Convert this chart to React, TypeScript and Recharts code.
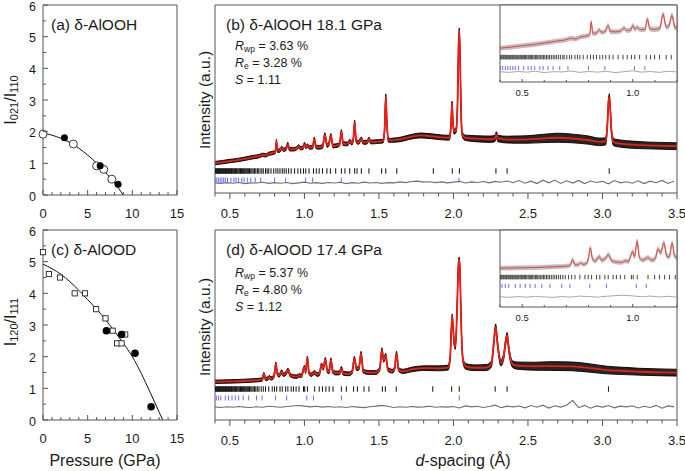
import React from 'react';
import { ComposedChart, Line, Scatter, Area, XAxis, YAxis, ReferenceArea } from 'recharts';

const FONT = '"Liberation Sans", Arial, sans-serif';
const FRAME = '#555';
const TXT = '#1a1a1a';

type P = [number, number];
type Prof = [number, number, number]; // d, calc, obs spread

// ---- (a) δ-AlOOH  I021/I110 vs pressure
const aOpen: P[] = [[0, 1.92], [3.4, 1.61], [6.0, 0.92], [6.8, 0.81], [7.7, 0.5]];
const aFilled: P[] = [[2.4, 1.81], [6.4, 0.92], [8.4, 0.34]];
const aFit: P[] = [[0, 1.95], [1, 1.89], [2, 1.79], [3, 1.66], [4, 1.48], [5, 1.26], [6, 1.01], [7, 0.71], [8, 0.38], [9, 0]];

// ---- (c) δ-AlOOD  I120/I111 vs pressure
const cOpen: P[] = [[0, 5.3], [0.66, 4.61], [1.9, 4.5], [3.55, 4.0], [4.7, 4.0], [5.95, 3.5], [7.0, 3.21], [7.8, 2.82], [8.3, 2.42], [8.8, 2.42], [9.2, 2.7]];
const cFilled: P[] = [[7.1, 2.82], [8.8, 2.7], [10.3, 2.11], [12.1, 0.42]];
const cFit: P[] = [[0, 4.92], [1, 4.78], [2, 4.6], [3, 4.37], [4, 4.1], [5, 3.8], [6, 3.5], [7, 3.17], [8, 2.8], [9, 2.42], [10, 2.0], [11, 1.47], [12, 0.87], [13, 0.25], [13.4, 0]];

const pTicks = [0, 1, 2, 3, 4, 5, 6, 7, 8, 9, 10, 11, 12, 13, 14, 15];
const rTicks = [0, 0.5, 1, 1.5, 2, 2.5, 3, 3.5, 4, 4.5, 5, 5.5, 6];
const dTicks = [0.4, 0.5, 0.6, 0.7, 0.8, 0.9, 1.0, 1.1, 1.2, 1.3, 1.4, 1.5, 1.6, 1.7, 1.8, 1.9, 2.0, 2.1, 2.2, 2.3, 2.4, 2.5, 2.6, 2.7, 2.8, 2.9, 3.0, 3.1, 3.2, 3.3, 3.4, 3.5];
const insetTicks = [0.4, 0.5, 0.6, 0.7, 0.8, 0.9, 1.0, 1.1, 1.2];

// ---- (b) δ-AlOOH 18.1 GPa pattern
const bProfile: Prof[] = [
  [0.40, 15.9, 0.9], [0.45, 16.4, 0.9], [0.50, 17.0, 0.9], [0.55, 17.5, 0.9], [0.60, 18.2, 0.9], [0.65, 19.0, 0.9],
  [0.70, 19.7, 0.9], [0.72, 20.3, 0.9], [0.74, 20.0, 0.9], [0.76, 20.8, 0.9], [0.78, 21.2, 0.9], [0.80, 21.6, 0.9],
  [0.806, 22.2, 0.9], [0.812, 27.5, 1.0], [0.82, 22.5, 0.9], [0.835, 22.6, 0.9], [0.848, 24.0, 0.9], [0.86, 23.0, 0.9],
  [0.876, 23.4, 0.9], [0.888, 26.0, 1.0], [0.90, 23.3, 0.9], [0.92, 23.2, 0.9], [0.945, 23.6, 0.9], [0.96, 24.8, 0.9],
  [0.975, 23.8, 0.9], [0.99, 24.0, 0.9], [1.001, 26.0, 1.0], [1.01, 24.4, 0.9], [1.02, 25.2, 0.9], [1.035, 24.2, 0.9],
  [1.055, 24.3, 0.9], [1.066, 28.8, 1.0], [1.078, 24.5, 0.9], [1.10, 24.3, 1.0], [1.122, 24.8, 1.0], [1.137, 31.0, 1.1],
  [1.152, 25.3, 1.0], [1.163, 25.8, 1.0], [1.177, 30.5, 1.1], [1.192, 25.0, 1.0], [1.22, 25.3, 1.0], [1.236, 26.0, 1.0],
  [1.248, 32.6, 1.1], [1.26, 26.2, 1.0], [1.29, 26.1, 1.0], [1.304, 27.6, 1.0], [1.318, 26.5, 1.0], [1.328, 28.5, 1.0],
  [1.337, 37.5, 1.2], [1.347, 28.0, 1.0], [1.362, 26.8, 1.0], [1.382, 28.8, 1.0], [1.395, 26.9, 1.0], [1.42, 27.0, 1.0],
  [1.433, 28.8, 1.0], [1.445, 27.1, 1.0], [1.50, 27.4, 1.0], [1.528, 27.6, 1.0], [1.538, 34.0, 1.1], [1.546, 51.5, 1.2],
  [1.554, 36.0, 1.1], [1.564, 28.0, 1.0], [1.60, 28.1, 1.1], [1.65, 28.6, 1.2], [1.70, 29.6, 1.2], [1.78, 30.6, 1.3],
  [1.85, 30.2, 1.3], [1.92, 29.6, 1.3], [1.972, 29.4, 1.3], [1.983, 35.0, 1.3], [1.99, 47.5, 1.3], [1.997, 37.0, 1.3],
  [2.005, 32.6, 1.3], [2.018, 33.5, 1.3], [2.028, 50.0, 1.3], [2.034, 78.0, 1.3], [2.039, 86.5, 1.3], [2.045, 70.0, 1.3],
  [2.052, 40.0, 1.3], [2.06, 31.0, 1.4], [2.075, 29.5, 1.4], [2.10, 29.2, 1.5], [2.15, 28.9, 1.6], [2.25, 28.6, 1.7],
  [2.278, 29.0, 1.7], [2.288, 30.9, 1.7], [2.298, 29.0, 1.7], [2.36, 28.4, 1.8], [2.40, 28.4, 1.9], [2.50, 28.5, 2.0],
  [2.60, 29.0, 2.2], [2.70, 29.4, 2.4], [2.80, 29.0, 2.3], [2.90, 28.2, 2.2], [2.98, 27.2, 2.0], [3.02, 27.4, 1.9],
  [3.032, 35.0, 1.8], [3.04, 48.0, 1.8], [3.046, 51.0, 1.8], [3.052, 45.0, 1.8], [3.06, 33.0, 1.8], [3.075, 27.0, 1.9],
  [3.12, 26.3, 1.9], [3.2, 25.7, 1.9], [3.3, 25.3, 1.8], [3.4, 25.1, 1.8], [3.5, 24.9, 1.8],
];
const bBlackTicks = [
  0.400, 0.405, 0.409, 0.414, 0.418, 0.423, 0.427, 0.431, 0.436, 0.440, 0.445, 0.449, 0.454, 0.458, 0.463, 0.468,
  0.472, 0.477, 0.481, 0.486, 0.491, 0.496, 0.500, 0.505, 0.511, 0.516, 0.521, 0.527, 0.532, 0.537, 0.543, 0.548,
  0.554, 0.560, 0.566, 0.571, 0.577, 0.584, 0.590, 0.597, 0.603, 0.610, 0.617, 0.624, 0.632, 0.640, 0.648, 0.656,
  0.665, 0.674, 0.684, 0.690, 0.702, 0.714, 0.724, 0.739, 0.750, 0.761, 0.776, 0.794, 0.809, 0.822, 0.836, 0.851,
  0.864, 0.878, 0.894, 0.911, 0.934, 0.956, 0.975, 0.994, 1.009, 1.031, 1.061, 1.080, 1.099, 1.121, 1.151, 1.174,
  1.210, 1.248, 1.272, 1.304, 1.337, 1.353, 1.382, 1.433, 1.518, 1.546, 1.620, 1.865, 1.992, 2.040, 2.285, 2.360, 3.045,
];
const bBlueTicks = [
  0.401, 0.412, 0.424, 0.435, 0.446, 0.458, 0.469, 0.484, 0.507, 0.527, 0.541, 0.557, 0.580, 0.595, 0.617, 0.640,
  0.670, 0.707, 0.800, 0.874, 1.008, 1.055, 1.247, 2.037,
];
// difference curve, evenly spaced from 0.40 in steps of 0.04
const bDiff = [
  5.4, 5.1, 5.5, 5.2, 5.6, 5.0, 5.4, 5.3, 5.7, 5.1,
  5.5, 5.2, 5.6, 5.0, 5.4, 5.8, 5.2, 5.5, 5.1, 5.6,
  5.3, 5.7, 5.0, 5.5, 5.2, 5.8, 5.3, 5.6, 5.1, 5.5,
  5.4, 5.9, 5.5, 6.1, 6.3, 5.8, 6.0, 5.5, 5.9, 5.4,
  5.8, 6.2, 5.3, 5.9, 5.6, 6.1, 5.4, 6.2, 5.7, 6.4,
  5.5, 6.6, 5.2, 6.3, 5.0, 6.8, 5.4, 6.9, 5.1, 6.5,
  5.3, 6.7, 5.0, 6.4, 5.6, 6.2, 4.9, 6.6, 5.4, 6.0,
  5.2, 6.5, 5.0, 6.3, 5.5, 6.7, 5.1, 6.2,
];

// ---- (d) δ-AlOOD 17.4 GPa pattern
const dProfile: Prof[] = [
  [0.40, 20.1, 0.9], [0.45, 20.2, 0.9], [0.50, 20.3, 0.9], [0.55, 20.4, 0.9], [0.60, 20.6, 0.9], [0.65, 20.8, 0.9],
  [0.70, 21.1, 0.9], [0.716, 21.3, 0.9], [0.728, 24.0, 1.0], [0.74, 21.6, 0.9], [0.755, 21.8, 0.9], [0.765, 22.6, 0.9],
  [0.775, 21.9, 0.9], [0.79, 22.3, 0.9], [0.80, 24.8, 1.0], [0.808, 29.5, 1.0], [0.818, 24.5, 1.0], [0.83, 23.4, 0.9],
  [0.848, 25.4, 1.0], [0.86, 23.8, 0.9], [0.876, 24.6, 1.0], [0.89, 26.3, 1.0], [0.905, 23.6, 0.9], [0.93, 22.9, 0.9],
  [0.95, 22.8, 0.9], [0.965, 23.5, 0.9], [0.98, 23.2, 0.9], [0.993, 26.5, 1.0], [1.0, 27.8, 1.0], [1.008, 25.5, 1.0],
  [1.02, 32.5, 1.1], [1.03, 25.2, 1.0], [1.045, 23.8, 0.9], [1.068, 25.0, 1.0], [1.085, 23.9, 1.0], [1.10, 24.3, 1.0],
  [1.115, 29.0, 1.0], [1.126, 27.2, 1.0], [1.14, 31.8, 1.1], [1.155, 25.6, 1.0], [1.165, 25.4, 1.0], [1.178, 31.6, 1.1],
  [1.19, 25.6, 1.0], [1.21, 24.7, 1.0], [1.235, 24.8, 1.0], [1.248, 27.2, 1.0], [1.26, 24.6, 1.0], [1.30, 24.3, 1.0],
  [1.32, 25.2, 1.0], [1.335, 32.4, 1.1], [1.35, 27.0, 1.0], [1.365, 27.2, 1.0], [1.38, 35.0, 1.1], [1.395, 25.8, 1.0],
  [1.43, 25.0, 1.0], [1.48, 25.0, 1.0], [1.505, 26.8, 1.0], [1.52, 36.8, 1.2], [1.532, 31.5, 1.1], [1.545, 34.0, 1.1],
  [1.56, 26.6, 1.0], [1.59, 25.7, 1.0], [1.605, 27.2, 1.0], [1.618, 35.1, 1.1], [1.632, 26.6, 1.0], [1.66, 25.6, 1.1],
  [1.72, 26.6, 1.2], [1.80, 27.3, 1.2], [1.90, 27.2, 1.3], [1.965, 27.6, 1.3], [1.978, 33.0, 1.3], [1.986, 48.0, 1.3],
  [1.992, 54.5, 1.3], [1.998, 48.0, 1.3], [2.005, 40.5, 1.3], [2.012, 38.5, 1.3], [2.02, 48.0, 1.3], [2.027, 66.0, 1.3],
  [2.033, 81.0, 1.3], [2.038, 84.5, 1.3], [2.044, 78.0, 1.3], [2.05, 57.0, 1.3], [2.058, 37.0, 1.4], [2.068, 30.0, 1.4],
  [2.085, 28.1, 1.5], [2.14, 27.5, 1.5], [2.22, 27.6, 1.6], [2.255, 29.5, 1.6], [2.27, 40.0, 1.6], [2.283, 49.0, 1.6],
  [2.296, 40.0, 1.6], [2.318, 30.0, 1.6], [2.336, 33.0, 1.6], [2.35, 41.0, 1.6], [2.36, 44.5, 1.6], [2.372, 37.0, 1.6],
  [2.395, 29.5, 1.7], [2.43, 28.6, 1.9], [2.55, 28.3, 2.1], [2.65, 28.4, 2.3], [2.80, 28.2, 2.3], [2.92, 27.3, 2.2],
  [3.03, 26.3, 2.0], [3.15, 25.8, 1.9], [3.25, 25.4, 1.8], [3.38, 25.1, 1.8], [3.5, 24.9, 1.8],
];
const dBlackTicks = [
  0.400, 0.405, 0.409, 0.414, 0.418, 0.423, 0.427, 0.431, 0.436, 0.440, 0.445, 0.449, 0.454, 0.458, 0.463, 0.468,
  0.472, 0.477, 0.481, 0.486, 0.491, 0.496, 0.500, 0.505, 0.511, 0.516, 0.521, 0.527, 0.532, 0.537, 0.543, 0.548,
  0.554, 0.560, 0.566, 0.571, 0.577, 0.584, 0.590, 0.597, 0.603, 0.610, 0.617, 0.624, 0.632, 0.640, 0.648, 0.656,
  0.665, 0.674, 0.684, 0.695, 0.710, 0.724, 0.739, 0.761, 0.784, 0.799, 0.814, 0.836, 0.851, 0.874, 0.889, 0.911,
  0.926, 0.944, 0.964, 0.994, 1.002, 1.020, 1.069, 1.099, 1.121, 1.144, 1.166, 1.192, 1.248, 1.281, 1.330, 1.355,
  1.400, 1.433, 1.523, 1.543, 1.616, 1.861, 1.988, 2.039, 2.280, 2.360, 3.040,
];
const dBlueTicks = [
  0.409, 0.424, 0.439, 0.469, 0.491, 0.514, 0.536, 0.559, 0.589, 0.626, 0.679, 0.716, 0.806, 0.881, 1.016, 1.061,
  1.248, 2.039,
];
const dDiff = [
  6.9, 6.6, 7.0, 6.7, 7.1, 6.8, 6.6, 7.0, 6.7, 7.2,
  7.0, 6.7, 7.1, 7.4, 7.6, 7.3, 6.9, 7.2, 6.8, 7.1,
  6.7, 7.0, 6.6, 7.1, 6.8, 6.5, 7.0, 7.3, 7.7, 7.2,
  6.6, 7.0, 6.7, 7.1, 6.8, 6.9, 7.2, 6.7, 7.0, 6.8,
  7.1, 6.3, 7.4, 6.9, 7.2, 6.6, 7.1, 7.8, 6.5, 7.3,
  6.9, 7.4, 6.4, 7.6, 6.7, 7.8, 6.3, 7.5, 6.8, 7.9,
  10.2, 6.5, 7.7, 6.2, 7.4, 6.8, 7.6, 6.4, 7.3, 6.9,
  7.5, 6.3, 7.2, 6.6, 7.7, 6.2, 7.4, 6.9,
];
const diffStart = 0.4;
const diffStep = 0.04;

const toXY = (a: P[]) => a.map(([x, y]) => ({ x, y }));
const toProf = (a: Prof[]) => a.map(([x, c, s]) => ({ x, y: c, lo: c - s, hi: c + s }));
const toTicks = (a: number[], level: number) => a.map((x) => ({ x, y: level }));
const toDiff = (a: number[]) => a.map((y, i) => ({ x: +(diffStart + i * diffStep).toFixed(3), y }));

const isMajor = (v: number, every: number) => Math.abs(v / every - Math.round(v / every)) < 1e-6;

function PTickX({ x, y, payload }: any) {
  const v = payload.value;
  const major = isMajor(v, 5);
  return (
    <g>
      <line x1={x} x2={x} y1={y} y2={y - (major ? 5 : 3)} stroke={FRAME} />
      {major && (
        <text x={x} y={y + 18} textAnchor="middle" dominantBaseline="central" fontSize={13} fill={TXT} fontFamily={FONT}>
          {v}
        </text>
      )}
    </g>
  );
}

function PTickY({ x, y, payload }: any) {
  const v = payload.value;
  const major = isMajor(v, 1);
  return (
    <g>
      <line x1={x} x2={x + (major ? 5 : 3)} y1={y} y2={y} stroke={FRAME} />
      {major && (
        <text x={x - 7} y={y + 1.5} textAnchor="end" dominantBaseline="central" fontSize={12.5} fill={TXT} fontFamily={FONT}>
          {v}
        </text>
      )}
    </g>
  );
}

function DTick({ x, y, payload }: any) {
  const v = payload.value;
  const major = isMajor(v, 0.5);
  return (
    <g>
      <line x1={x} x2={x} y1={y} y2={y + (major ? 6 : 3.5)} stroke={FRAME} />
      {major && (
        <text x={x} y={y + 20} textAnchor="middle" dominantBaseline="central" fontSize={13} fill={TXT} fontFamily={FONT}>
          {v.toFixed(1)}
        </text>
      )}
    </g>
  );
}

function InsetTick({ x, y, payload }: any) {
  const v = payload.value;
  const major = isMajor(v, 0.5);
  return (
    <g>
      <line x1={x} x2={x} y1={y} y2={y - (major ? 3 : 2)} stroke={FRAME} />
      {major && (
        <text x={x} y={y + 10} textAnchor="middle" dominantBaseline="central" fontSize={9.5} fill={TXT} fontFamily={FONT}>
          {v.toFixed(1)}
        </text>
      )}
    </g>
  );
}

const tickShape = (len: number, color: string, w: number) => (p: any) => (
  <line x1={p.cx} x2={p.cx} y1={p.cy - len / 2} y2={p.cy + len / 2} stroke={color} strokeWidth={w} />
);
const openCircle = (p: any) => <circle cx={p.cx} cy={p.cy} r={4} fill="#fff" stroke="#222" strokeWidth={0.9} />;
const filledCircle = (r: number) => (p: any) => <circle cx={p.cx} cy={p.cy} r={r} fill="#000" />;
const openSquare = (p: any) => (
  <rect x={p.cx - 2.6} y={p.cy - 2.6} width={5.2} height={5.2} fill="#fff" stroke="#222" strokeWidth={0.9} />
);

function PressurePanel({ top, open, filled, fit, openShape, filledR }: any) {
  return (
    <div style={{ position: 'absolute', left: 0, top: top - 10 }}>
      <ComposedChart width={190} height={235} margin={{ top: 15, right: 13, bottom: 0, left: 0 }}>
        <XAxis type="number" dataKey="x" domain={[0, 15]} ticks={pTicks} interval={0} tickSize={0} tickMargin={0}
          axisLine={false} height={30} tick={<PTickX />} />
        <YAxis type="number" dataKey="y" domain={[0, 6]} ticks={rTicks} interval={0} tickSize={0} tickMargin={0}
          axisLine={false} width={43} tick={<PTickY />} />
        <Line data={toXY(fit)} dataKey="y" type="monotone" stroke="#111" strokeWidth={1} dot={false} isAnimationActive={false} />
        <Scatter data={toXY(open)} shape={openShape} isAnimationActive={false} />
        <Scatter data={toXY(filled)} shape={filledCircle(filledR)} isAnimationActive={false} />
        <ReferenceArea x1={0} x2={15} y1={0} y2={6} fill="none" stroke={FRAME} strokeWidth={1} />
      </ComposedChart>
    </div>
  );
}

function PatternPanel({ left, top, width, height, margin, xDomain, yDomain, xTicks, tick, xAxisHeight,
  profile, black, blue, diff, levels, inset }: any) {
  return (
    <div style={{ position: 'absolute', left, top }}>
      <ComposedChart width={width} height={height} margin={margin}>
        <XAxis type="number" dataKey="x" domain={xDomain} ticks={xTicks} interval={0} tickSize={0} tickMargin={0}
          axisLine={false} height={xAxisHeight} tick={tick} allowDataOverflow />
        <YAxis type="number" dataKey="y" domain={yDomain} hide allowDataOverflow />
        <Area data={toProf(profile)} dataKey={(p: any) => [p.lo, p.hi]} type="monotone"
          fill={inset ? '#c4c4c4' : '#262626'} fillOpacity={1} stroke={inset ? '#a0a0a0' : '#000'}
          strokeWidth={inset ? 0.5 : 0.9} isAnimationActive={false} />
        <Line data={toProf(profile)} dataKey="y" type="monotone" stroke={inset ? '#ee3b3b' : '#ee1c12'}
          strokeWidth={inset ? 1 : 1.8} dot={false} isAnimationActive={false} />
        <Scatter data={toTicks(black, levels[0])} shape={tickShape(inset ? 4.5 : 5.5, '#111', inset ? 0.8 : 1)} isAnimationActive={false} />
        <Scatter data={toTicks(blue, levels[1])} shape={tickShape(inset ? 4 : 5, '#5a5aff', 0.9)} isAnimationActive={false} />
        <Line data={toDiff(diff)} dataKey="y" type="linear" stroke={inset ? '#a8a8a8' : '#6e6e6e'} strokeWidth={inset ? 1 : 1.1}
          dot={false} isAnimationActive={false} />
        <ReferenceArea x1={xDomain[0]} x2={xDomain[1]} y1={yDomain[0]} y2={yDomain[1]} fill="none" stroke={FRAME} strokeWidth={1} />
      </ComposedChart>
    </div>
  );
}

function Stats({ x, y, rwp, re, s }: any) {
  return (
    <g fontSize={12.5} fill={TXT} fontFamily={FONT}>
      <text x={x} y={y} dominantBaseline="central">
        <tspan fontStyle="italic">R</tspan>
        <tspan fontSize={8.5} dy={3}>wp</tspan>
        <tspan dy={-3}> = {rwp} %</tspan>
      </text>
      <text x={x} y={y + 17} dominantBaseline="central">
        <tspan fontStyle="italic">R</tspan>
        <tspan fontSize={8.5} dy={3}>e</tspan>
        <tspan dy={-3}> = {re} %</tspan>
      </text>
      <text x={x} y={y + 34} dominantBaseline="central">
        <tspan fontStyle="italic">S</tspan>
        <tspan> = {s}</tspan>
      </text>
    </g>
  );
}

export default function App() {
  const mainMargin = { top: 5, right: 8, bottom: 0, left: 25 };
  const insetMargin = { top: 1, right: 1, bottom: 0, left: 1 };
  return (
    <div style={{ position: 'absolute', left: 0, top: 0, width: 685, height: 471, background: '#fff', fontFamily: FONT }}>
      <PressurePanel top={0} open={aOpen} filled={aFilled} fit={aFit} openShape={openCircle} filledR={3.5} />
      <PressurePanel top={225} open={cOpen} filled={cFilled} fit={cFit} openShape={openSquare} filledR={3.8} />

      <PatternPanel left={190} top={0} width={495} height={225} margin={mainMargin} xDomain={[0.4, 3.5]} yDomain={[0, 100]}
        xTicks={dTicks} tick={<DTick />} xAxisHeight={32} profile={bProfile} black={bBlackTicks} blue={bBlueTicks}
        diff={bDiff} levels={[11.7, 6.9]} />
      <PatternPanel left={190} top={225} width={495} height={225} margin={mainMargin} xDomain={[0.4, 3.5]} yDomain={[0, 100]}
        xTicks={dTicks} tick={<DTick />} xAxisHeight={30} profile={dProfile} black={dBlackTicks} blue={dBlueTicks}
        diff={dDiff} levels={[16.3, 11.6]} />

      <div style={{ position: 'absolute', left: 500, top: 5, width: 177, height: 77, background: '#fff' }} />
      <PatternPanel left={499} top={4} width={179} height={94} margin={insetMargin} xDomain={[0.4, 1.2]} yDomain={[0.8, 35.2]}
        xTicks={insetTicks} tick={<InsetTick />} xAxisHeight={16} profile={bProfile} black={bBlackTicks} blue={bBlueTicks}
        diff={bDiff} levels={[11.9, 7.0]} inset />
      <div style={{ position: 'absolute', left: 500, top: 230, width: 177, height: 77, background: '#fff' }} />
      <PatternPanel left={499} top={229} width={179} height={94} margin={insetMargin} xDomain={[0.4, 1.2]} yDomain={[2.15, 37.8]}
        xTicks={insetTicks} tick={<InsetTick />} xAxisHeight={16} profile={dProfile} black={dBlackTicks} blue={dBlueTicks}
        diff={dDiff} levels={[16.0, 11.9]} inset />

      <svg width={685} height={471} style={{ position: 'absolute', left: 0, top: 0, pointerEvents: 'none' }}>
        <g fill={TXT} fontFamily={FONT}>
          <text x={51} y={24} fontSize={15.5} dominantBaseline="central">(a) δ-AlOOH</text>
          <text x={51} y={249} fontSize={15.5} dominantBaseline="central">(c) δ-AlOOD</text>
          <text x={226} y={24} fontSize={15.5} dominantBaseline="central">(b) δ-AlOOH 18.1 GPa</text>
          <text x={226} y={249} fontSize={15.5} dominantBaseline="central">(d) δ-AlOOD 17.4 GPa</text>
          <text x={10} y={100} fontSize={16} textAnchor="middle" dominantBaseline="central" transform="rotate(-90 10 100)">
            I<tspan fontSize={11} dy={4}>021</tspan><tspan dy={-4}>/I</tspan><tspan fontSize={11} dy={4}>110</tspan>
          </text>
          <text x={10} y={322} fontSize={16} textAnchor="middle" dominantBaseline="central" transform="rotate(-90 10 322)">
            I<tspan fontSize={11} dy={4}>120</tspan><tspan dy={-4}>/I</tspan><tspan fontSize={11} dy={4}>111</tspan>
          </text>
          <text x={204} y={100} fontSize={15.5} textAnchor="middle" dominantBaseline="central" transform="rotate(-90 204 100)">
            Intensity (a.u.)
          </text>
          <text x={204} y={327} fontSize={15.5} textAnchor="middle" dominantBaseline="central" transform="rotate(-90 204 327)">
            Intensity (a.u.)
          </text>
          <text x={105} y={460} fontSize={16} textAnchor="middle" dominantBaseline="central">Pressure (GPa)</text>
          <text x={463} y={460} fontSize={16} textAnchor="middle" dominantBaseline="central">
            <tspan fontStyle="italic">d</tspan>-spacing (Å)
          </text>
        </g>
        <Stats x={235} y={46} rwp="3.63" re="3.28" s="1.11" />
        <Stats x={235} y={273} rwp="5.37" re="4.80" s="1.12" />
      </svg>
    </div>
  );
}
